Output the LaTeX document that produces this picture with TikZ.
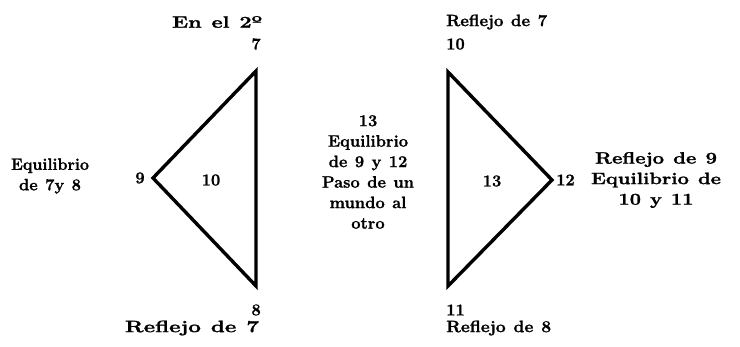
\documentclass[tikz,border=0pt]{standalone}
\usepackage{fontspec}
\setmainfont{Latin Modern Roman}[BoldFeatures={FakeBold=1.2}]
\usepackage{graphicx}
\newcommand{\lblfont}{\fontsize{16.5}{20.5}\selectfont\bfseries\spaceskip=0.45em plus 0.1em\relax}
\newcommand{\spr}[2]{\resizebox{#1pt}{\height}{#2}}
\begin{document}
\begin{tikzpicture}[x=1pt,y=-1pt,
  lbl/.style={font=\lblfont, inner sep=0pt, align=center},
  edge/.style={line width=3.4pt, line join=miter}]
\useasboundingbox (0,0) rectangle (740,347);
% left triangle
\coordinate (A) at (256,71);
\coordinate (B) at (153,178);
\coordinate (C) at (256,286);
\draw[edge] (A) -- (B) -- (C) -- cycle;
% right triangle
\coordinate (D) at (448,72);
\coordinate (E) at (552,180);
\coordinate (F) at (448,286);
\draw[edge] (D) -- (E) -- (F) -- cycle;
% labels left
\node[lbl] (t1) at (217,22) {\spr{90}{En el 2º}};
\node[lbl, anchor=east] (n7) at (261,44) {7};
\node[lbl] (eq78) at (50,176) {\spr{78}{Equilibrio}\\de 7y 8};
\node[lbl] (n9) at (140,178) {9};
\node[lbl] (n10) at (211,180) {10};
\node[lbl, anchor=east] (n8) at (261,310) {8};
\node[lbl] (r7a) at (192,328) {\spr{134}{Reflejo de 7}};
% middle
\node[lbl] (mid) at (368,172) {13\\Equilibrio\\de 9 y 12\\Paso de un\\mundo al\\otro};
% labels right
\node[lbl, anchor=west] (r7b) at (446,22) {\spr{101}{Reflejo de 7}};
\node[lbl, anchor=west] (n10b) at (446,44) {10};
\node[lbl] (n13) at (492,181) {13};
\node[lbl, anchor=west] (n12) at (556,180) {12};
\node[lbl] (r9) at (656,180) {\spr{122}{Reflejo de 9}\\\spr{130}{Equilibrio de}\\\spr{75}{10 y 11}};
\node[lbl, anchor=west] (n11) at (446,310) {11};
\node[lbl, anchor=west] (r8) at (446,328) {\spr{105}{Reflejo de 8}};
\end{tikzpicture}
\end{document}
